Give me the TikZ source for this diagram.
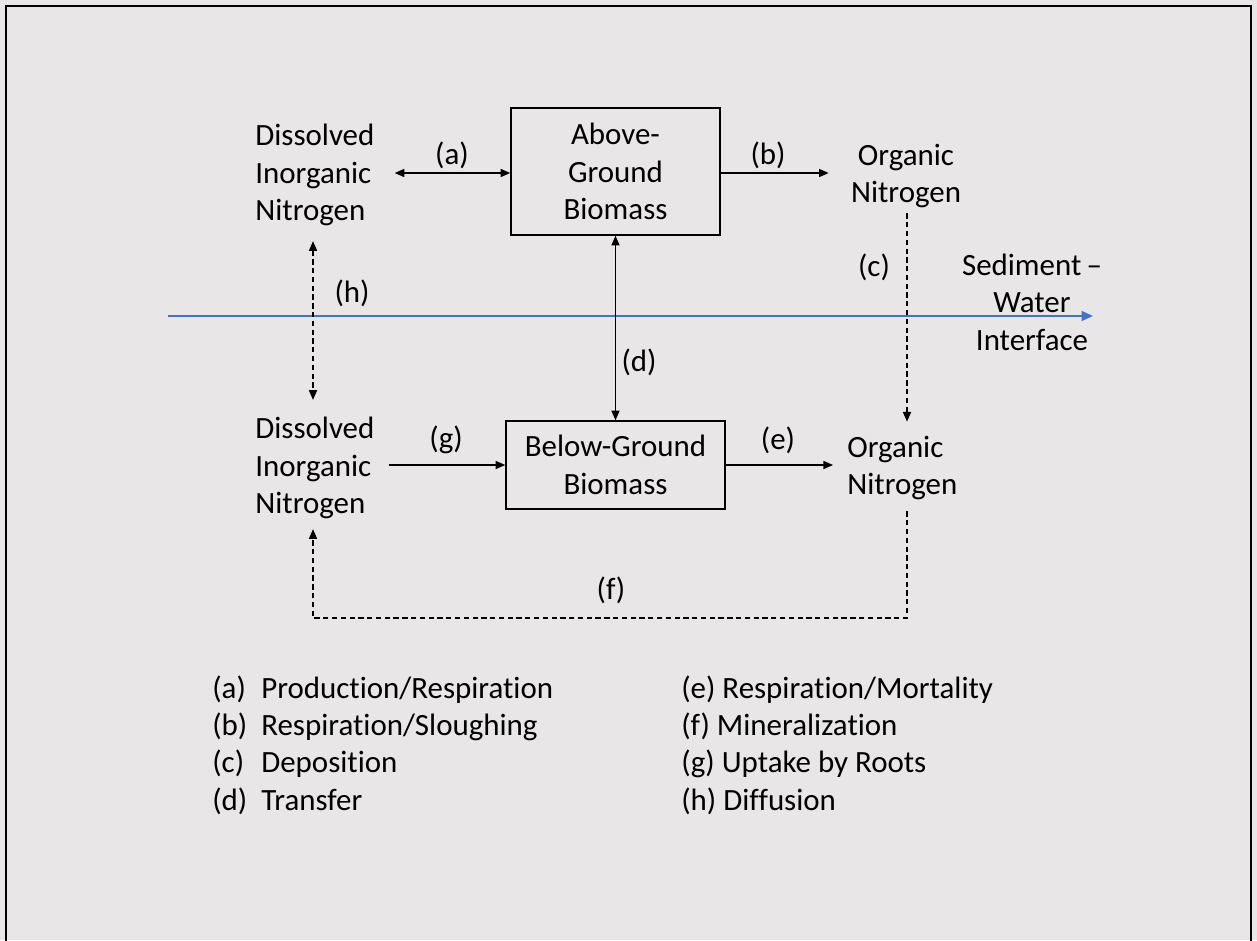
\documentclass[tikz,border=0pt]{standalone}
\usepackage{fontspec}
\setmainfont{Carlito}[Ligatures=NoCommon]
\usetikzlibrary{arrows.meta}
\definecolor{bgcol}{HTML}{E8E6E6}
\definecolor{swblue}{HTML}{4472C4}
\begin{document}
\begin{tikzpicture}[x=0.02cm,y=-0.02cm,
  font=\fontsize{17.6pt}{21.3pt}\selectfont,
  txt/.style={inner sep=0pt,align=left},
  ctxt/.style={inner sep=0pt,align=center},
  lbl/.style={inner sep=0pt},
  boxnode/.style={draw,line width=0.85pt,inner sep=0pt,align=center},
  tip/.style={-{Triangle[length=5.5pt,width=4.6pt]}},
  dtip/.style={{Triangle[length=5.5pt,width=4.6pt]}-{Triangle[length=5.5pt,width=4.6pt]}},
  conn/.style={line width=0.8pt},
  dsh/.style={line width=0.7pt,dash pattern=on 3pt off 2pt},
]
\useasboundingbox (0,0) rectangle (1257,940);
\fill[bgcol] (0,0) rectangle (1257,940);
\draw[line width=1.3pt] (6,950) -- (6,6) -- (1251,6) -- (1251,950);

% nodes
\node[txt,anchor=west] (dinT) at (255,175) {Dissolved\\Inorganic\\Nitrogen};
\node[boxnode,minimum width=209*0.02cm,minimum height=127*0.02cm] (agb) at (615.5,171.5) {Above-\\Ground\\Biomass};
\node[ctxt] (onT) at (906,176) {Organic\\Nitrogen};
\node[ctxt] (swi) at (1032,302) {Sediment\,–\\Water\\Interface};
\node[txt,anchor=west] (dinB) at (255,468) {Dissolved\\Inorganic\\Nitrogen};
\node[boxnode,minimum width=219*0.02cm,minimum height=88*0.02cm] (bgb) at (615.5,465) {Below-Ground\\Biomass};
\node[txt,anchor=west] (onB) at (847,468) {Organic\\Nitrogen};

% labels
\node[lbl] (la) at (452,155) {(a)};
\node[lbl] (lb) at (768,155) {(b)};
\node[lbl] (lc) at (874,267) {(c)};
\node[lbl] (ld) at (639,362) {(d)};
\node[lbl] (le) at (778,440) {(e)};
\node[lbl] (lf) at (611,590) {(f)};
\node[lbl] (lg) at (446,440) {(g)};
\node[lbl] (lh) at (352,293) {(h)};

% interface line
\coordinate (swl) at (168,316);
\coordinate (swr) at (1093,316);
\draw[swblue,line width=1.4pt,-{Triangle[length=6.5pt,width=5.5pt]}] (swl) -- (swr);

% connectors
\draw[conn,dtip,shorten <=20*0.02cm] (dinT.east |- 0,173) -- (agb.west |- 0,173);
\draw[conn,tip,shorten >=22*0.02cm] (agb.east |- 0,173) -- (onT.west |- 0,173);
\draw[dsh,tip,shorten <=5*0.02cm,shorten >=14*0.02cm] (907,0 |- onT.south) -- (907,0 |- onB.north);
\draw[conn,dtip] (agb.south) -- (bgb.north);
\draw[conn,tip,shorten <=14*0.02cm] (dinB.east |- bgb.west) -- (bgb.west);
\draw[conn,tip,shorten >=14*0.02cm] (bgb.east) -- (bgb.east -| onB.west);
\draw[dsh,dtip,shorten <=15*0.02cm,shorten >=17*0.02cm] (313,0 |- dinT.south) -- (313,0 |- dinB.north);
\coordinate (fbot) at (610,618);
\draw[dsh,tip,shorten <=11*0.02cm,shorten >=10*0.02cm] (907,0 |- onB.south) -- (907,0 |- fbot) -- (313,0 |- fbot) -- (313,0 |- dinB.south);

% legend
\node[inner sep=0pt,anchor=base west] (legL) at (212,698) {\fontsize{17.6pt}{21.26pt}\selectfont\begin{tabular}[t]{@{}p{0.98cm}@{}l@{}}
(a) & Production/Respiration\\
(b) & Respiration/Sloughing\\
(c) & Deposition\\
(d) & Transfer
\end{tabular}};
\node[inner sep=0pt,anchor=base west] (legR) at (681,698) {\fontsize{17.6pt}{21.26pt}\selectfont\begin{tabular}[t]{@{}l@{}}
(e) Respiration/Mortality\\
(f) Mineralization\\
(g) Uptake by Roots\\
(h) Diffusion
\end{tabular}};
\end{tikzpicture}
\end{document}
